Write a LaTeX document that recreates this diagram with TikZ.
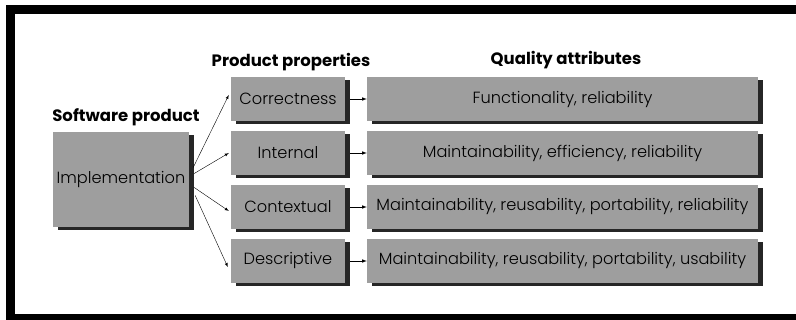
\documentclass[tikz,border=0pt]{standalone}
\usepackage{fontspec}
\setmainfont{Poppins}
\newfontfamily\thinfont{Poppins Light}
\usetikzlibrary{shadows}
\begin{document}
\begin{tikzpicture}[x=1pt,y=-1pt,
  halftone/.style={fill=black!38, inner sep=0pt, font=\thinfont\fontsize{16.2}{19}\selectfont,
    drop shadow={shadow xshift=5pt, shadow yshift=-3pt, fill=black!85, opacity=1}},
  propbox/.style={halftone, minimum width=114pt, minimum height=44pt},
  qualbox/.style={halftone, minimum width=391pt, minimum height=44pt},
  heading/.style={font=\fontsize{16.5}{19}\selectfont\bfseries},
  link/.style={draw, thin, ->, >=latex}]
\useasboundingbox (0,0) rectangle (796,320);
\draw[line width=9pt] (10,10) rectangle (800,319);

\node[heading] (hsw) at (126,117) {Software product};
\node[heading] (hpp) at (291,62) {Product properties};
\node[heading] (hqa) at (566,60) {Quality attributes};

\node[halftone, minimum width=136pt, minimum height=95pt] (impl) at (121,179.5) {Implementation};

\node[propbox] (corr) at (288,99) {Correctness};
\node[propbox] (int) at (288,153) {Internal};
\node[propbox] (ctx) at (288,207) {Contextual};
\node[propbox] (desc) at (288,261) {Descriptive};

\node[qualbox] (q1) at (562.5,99) {Functionality, reliability};
\node[qualbox] (q2) at (562.5,153) {Maintainability, efficiency, reliability};
\node[qualbox] (q3) at (562.5,207) {Maintainability, reusability, portability, reliability};
\node[qualbox] (q4) at (562.5,261) {Maintainability, reusability, portability, usability};

\path[link] ([xshift=4pt,yshift=12pt]impl.east) -- ([xshift=-2pt,yshift=4pt]corr.west);
\path[link] ([xshift=5pt,yshift=6pt]impl.east) -- ([xshift=-2pt]int.west);
\path[link] ([xshift=5pt,yshift=-8pt]impl.east) -- ([xshift=-2pt,yshift=-4pt]ctx.west);
\path[link] ([xshift=6pt,yshift=-16pt]impl.east) -- ([xshift=-3pt,yshift=-6pt]desc.west);

\path[link,semithick] ([xshift=5pt]corr.east) -- (q1.west);
\path[link,semithick] ([xshift=5pt]int.east) -- (q2.west);
\path[link,semithick] ([xshift=5pt]ctx.east) -- (q3.west);
\path[link,semithick] ([xshift=5pt]desc.east) -- (q4.west);
\end{tikzpicture}
\end{document}
